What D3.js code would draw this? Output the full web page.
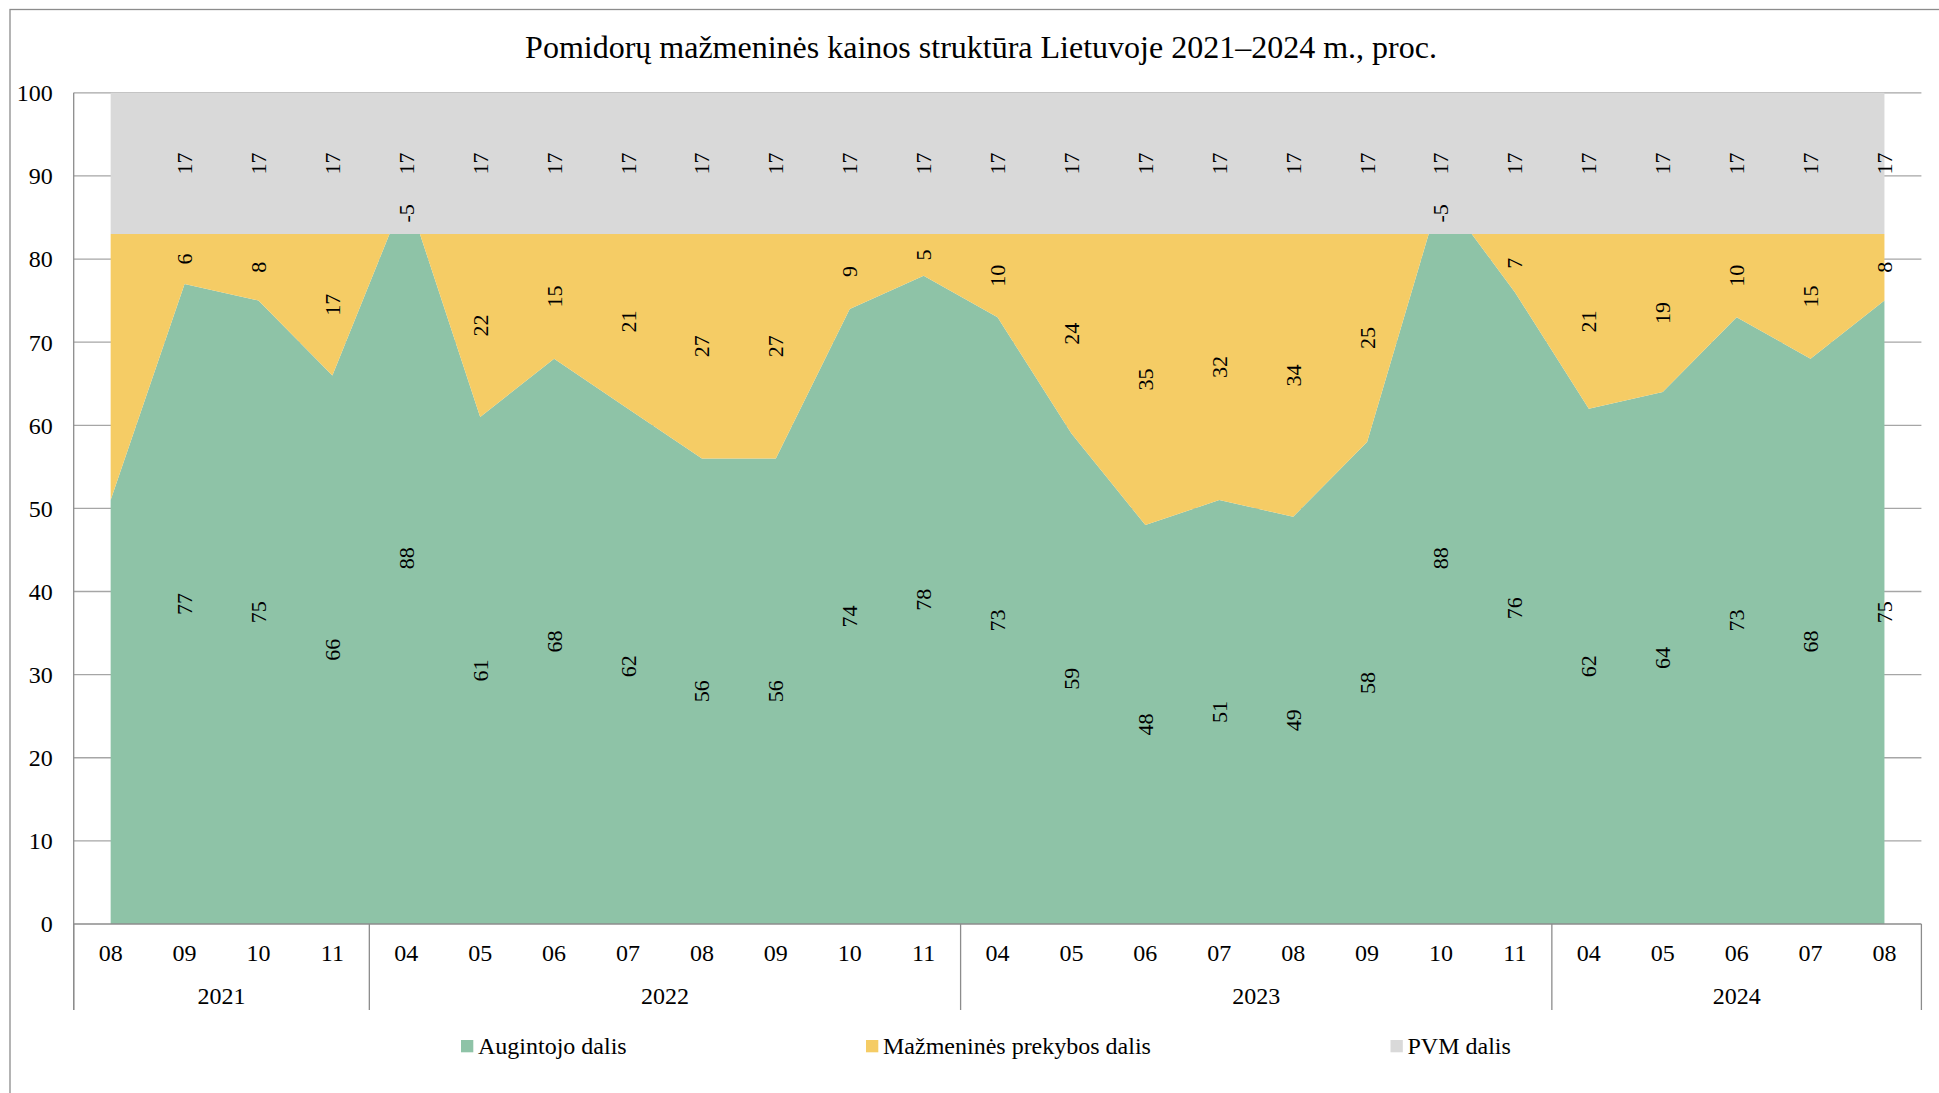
<!DOCTYPE html>
<html>
<head>
<meta charset="utf-8">
<script src="https://cdn.jsdelivr.net/npm/d3@7"></script>
<style>
  html, body { margin: 0; padding: 0; background: #fff; }
  svg { display: block; font-family: "Liberation Serif", "Times New Roman", serif; }
</style>
</head>
<body>
<svg id="chart" width="1939" height="1093"></svg>
<script>
// Month codes along the axis, grouped by year
const months = ["08","09","10","11",
                "04","05","06","07","08","09","10","11",
                "04","05","06","07","08","09","10","11",
                "04","05","06","07","08"];
const yearLabels = ["2021", "2022", "2023", "2024"];
const yearSpans = [4, 8, 8, 5];

// Price structure shares, %
const grower = [51,77,75,66, 88,61,68,62,56,56,74,78, 73,59,48,51,49,58,88,76, 62,64,73,68,75];
const retail = [32,6,8,17, -5,22,15,21,27,27,9,5, 10,24,35,32,34,25,-5,7, 21,19,10,15,8];
const vat    = [17,17,17,17, 17,17,17,17,17,17,17,17, 17,17,17,17,17,17,17,17, 17,17,17,17,17];

// Categories without data labels
const unlabeled = [0];

const seriesNames = ["Augintojo dalis", "Mažmeninės prekybos dalis", "PVM dalis"];
const seriesColors = ["#8EC3A7", "#F5CC65", "#D9D9D9"];
const yTicks = [0,10,20,30,40,50,60,70,80,90,100];

const title = "Pomidorų mažmeninės kainos struktūra Lietuvoje 2021–2024 m., proc.";

const svg = d3.select("#chart");

// outer chart frame
svg.append("rect")
  .attr("x", 10).attr("y", 9.5)
  .attr("width", 1942).attr("height", 1100)
  .attr("fill", "#fff").attr("stroke", "#8c8c8c").attr("stroke-width", 1.3);

const plot = { left: 73.7, right: 1921.4, top: 92.8, bottom: 924 };

const x = d3.scaleBand()
  .domain(d3.range(months.length))
  .range([plot.left, plot.right]);
const cx = i => x(i) + x.bandwidth() / 2;

const y = d3.scaleLinear().domain([0, 100]).range([plot.bottom, plot.top]);

// title
svg.append("text")
  .attr("x", 981).attr("y", 57.5)
  .attr("text-anchor", "middle")
  .attr("font-size", 32)
  .attr("fill", "#000")
  .text(title);

// horizontal gridlines
svg.append("g")
  .selectAll("line")
  .data(yTicks.filter(t => t > 0))
  .join("line")
  .attr("x1", plot.left).attr("x2", plot.right)
  .attr("y1", d => y(d)).attr("y2", d => y(d))
  .attr("stroke", "#a6a6a6").attr("stroke-width", 1.3);

// stacked areas
const rows = months.map((m, i) => ({ i, grower: grower[i], retail: retail[i], vat: vat[i] }));
const keys = ["grower", "retail", "vat"];
const stacked = d3.stack().keys(keys)(rows);

const area = d3.area()
  .x(d => cx(d.data.i))
  .y0(d => y(d[0]))
  .y1(d => y(d[1]));

svg.append("g")
  .selectAll("path")
  .data(stacked)
  .join("path")
  .attr("d", area)
  .attr("fill", (d, k) => seriesColors[k]);

// data labels, centred on each band, rotated
const labelG = svg.append("g")
  .attr("font-size", 22)
  .attr("fill", "#000");
stacked.forEach(s => {
  s.forEach(d => {
    const i = d.data.i;
    if (unlabeled.includes(i)) return;
    const v = d.data[s.key];
    labelG.append("text")
      .attr("transform", `translate(${cx(i)},${y((d[0] + d[1]) / 2)}) rotate(-90)`)
      .attr("text-anchor", "middle")
      .attr("dominant-baseline", "central")
      .text(v);
  });
});

// y axis
const yAxis = d3.axisLeft(y).tickValues(yTicks).tickSize(0).tickPadding(21);
const yg = svg.append("g")
  .attr("transform", `translate(${plot.left},0)`)
  .call(yAxis);
yg.select(".domain").remove();
yg.selectAll("text")
  .attr("font-family", "Liberation Serif, Times New Roman, serif")
  .attr("font-size", 24)
  .attr("fill", "#000")
  .attr("dy", "0.33em");

// axis lines
const axisColor = "#8c8c8c";
svg.append("line")
  .attr("x1", plot.left).attr("x2", plot.left)
  .attr("y1", plot.top).attr("y2", 1010)
  .attr("stroke", axisColor).attr("stroke-width", 1.3);
svg.append("line")
  .attr("x1", plot.left).attr("x2", plot.right)
  .attr("y1", plot.bottom).attr("y2", plot.bottom)
  .attr("stroke", axisColor).attr("stroke-width", 1.3);

// month labels
const xAxis = d3.axisBottom(x).tickSize(0).tickPadding(0).tickFormat(i => months[i]);
const xg = svg.append("g")
  .attr("transform", `translate(0,${plot.bottom})`)
  .call(xAxis);
xg.select(".domain").remove();
xg.selectAll("text")
  .attr("font-family", "Liberation Serif, Times New Roman, serif")
  .attr("font-size", 24)
  .attr("fill", "#000")
  .attr("dy", null)
  .attr("y", 37);

// year groups: separators and labels
let start = 0;
const bounds = [0];
yearSpans.forEach(n => { start += n; bounds.push(start); });
const edgeX = b => b < months.length ? x(b) : plot.right;

svg.append("g")
  .selectAll("line")
  .data(bounds)
  .join("line")
  .attr("x1", b => edgeX(b)).attr("x2", b => edgeX(b))
  .attr("y1", plot.bottom).attr("y2", 1010)
  .attr("stroke", axisColor).attr("stroke-width", 1.3);

svg.append("g")
  .selectAll("text")
  .data(yearLabels)
  .join("text")
  .attr("x", (d, k) => (edgeX(bounds[k]) + edgeX(bounds[k + 1])) / 2)
  .attr("y", 1003.5)
  .attr("text-anchor", "middle")
  .attr("font-size", 24)
  .attr("fill", "#000")
  .text(d => d);

// legend
const legendX = [461, 866, 1390.5];
const lg = svg.append("g");
seriesNames.forEach((name, k) => {
  lg.append("rect")
    .attr("x", legendX[k]).attr("y", 1040)
    .attr("width", 12.3).attr("height", 12.3)
    .attr("fill", seriesColors[k]);
  lg.append("text")
    .attr("x", legendX[k] + 17)
    .attr("y", 1053.5)
    .attr("font-size", 24)
    .attr("fill", "#000")
    .text(name);
});
</script>
</body>
</html>
